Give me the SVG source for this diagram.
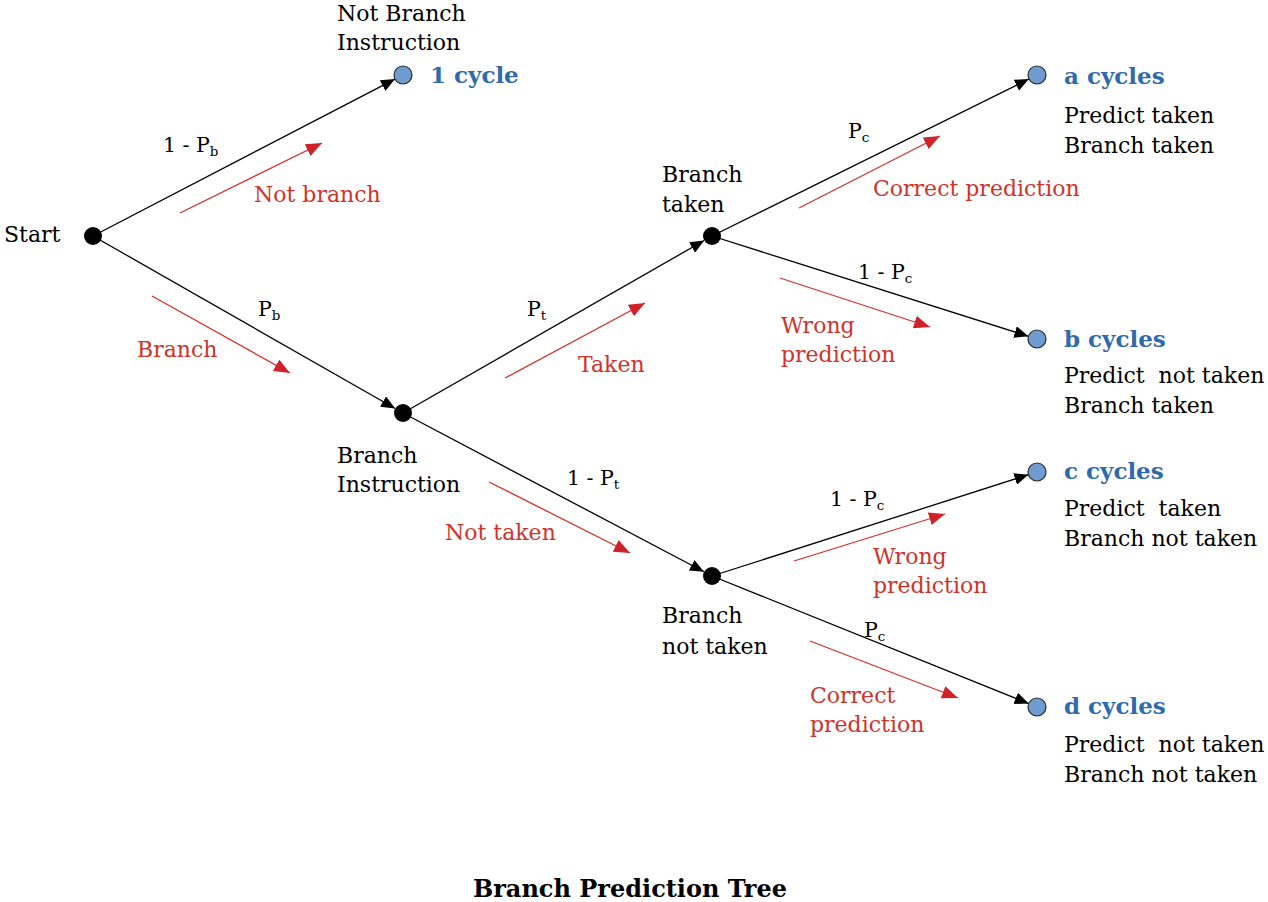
<svg xmlns="http://www.w3.org/2000/svg" width="1268" height="902" viewBox="0 0 1268 902">
<style>
text{font-family:"DejaVu Serif","Liberation Serif",serif;font-size:22px;fill:#000}
.red{fill:#D0322C}
.blue{fill:#2E6BAE;font-weight:bold;font-size:23px}
.lbl{font-size:20.5px}
.sub{font-size:13.5px}
.title{font-weight:bold;font-size:24px}
.edge{stroke:#000;stroke-width:1.3;fill:none;marker-end:url(#ah)}
.ann{stroke:#D8302A;stroke-width:1.3;fill:none;marker-end:url(#rh)}
.dot{fill:#000}
.leaf{fill:#6F9BD1;stroke:#2a2a2a;stroke-width:1.2}
</style>
<defs>
<marker id="ah" markerUnits="userSpaceOnUse" markerWidth="14" markerHeight="12" refX="14" refY="6" orient="auto"><path d="M0,0 L14,6 L0,12 z" fill="#000"/></marker>
<marker id="rh" markerUnits="userSpaceOnUse" markerWidth="16" markerHeight="13" refX="16" refY="6.5" orient="auto"><path d="M0,0 L16,6.5 L0,13 z" fill="#D0222A"/></marker>
</defs>
<rect width="1268" height="902" fill="#fff"/>
<g id="connectors">
<line class="edge" x1="93" y1="236" x2="395" y2="79.1"/>
<line class="edge" x1="93" y1="236" x2="395.2" y2="408.5"/>
<line class="edge" x1="403" y1="413" x2="704.2" y2="240.5"/>
<line class="edge" x1="403" y1="413" x2="704" y2="571.8"/>
<line class="edge" x1="712" y1="236" x2="1028.9" y2="79"/>
<line class="edge" x1="712" y1="236" x2="1028.4" y2="336.3"/>
<line class="edge" x1="712" y1="576" x2="1028.4" y2="474.7"/>
<line class="edge" x1="712" y1="576" x2="1028.7" y2="703.6"/>
<text x="163" y="152" class="lbl">1 - P<tspan class="sub" dy="4">b</tspan></text>
<text x="258" y="316" class="lbl">P<tspan class="sub" dy="4">b</tspan></text>
<text x="527" y="316" class="lbl">P<tspan class="sub" dy="4">t</tspan></text>
<text x="567" y="485" class="lbl">1 - P<tspan class="sub" dy="4">t</tspan></text>
<text x="848" y="138" class="lbl">P<tspan class="sub" dy="4">c</tspan></text>
<text x="858" y="279" class="lbl">1 - P<tspan class="sub" dy="4">c</tspan></text>
<text x="830" y="506" class="lbl">1 - P<tspan class="sub" dy="4">c</tspan></text>
<text x="864" y="637" class="lbl">P<tspan class="sub" dy="4">c</tspan></text>
</g>
<g id="annotations">
<line class="ann" x1="180" y1="213" x2="322" y2="143"/>
<text x="254" y="202" class="red">Not branch</text>
<line class="ann" x1="152" y1="296" x2="290" y2="373"/>
<text x="137" y="357" class="red">Branch</text>
<line class="ann" x1="505" y1="378" x2="645" y2="303"/>
<text x="578" y="372" class="red">Taken</text>
<line class="ann" x1="489" y1="482" x2="630" y2="553"/>
<text x="445" y="540" class="red">Not taken</text>
<line class="ann" x1="799" y1="208" x2="940" y2="136"/>
<text x="873" y="196" class="red">Correct prediction</text>
<line class="ann" x1="780" y1="278" x2="930" y2="327"/>
<text x="781" y="333" class="red">Wrong</text>
<text x="781" y="362" class="red">prediction</text>
<line class="ann" x1="794" y1="561" x2="945" y2="514"/>
<text x="873" y="564" class="red">Wrong</text>
<text x="873" y="593" class="red">prediction</text>
<line class="ann" x1="810" y1="641" x2="958" y2="698"/>
<text x="810" y="703" class="red">Correct</text>
<text x="810" y="732" class="red">prediction</text>
</g>
<g id="start">
<circle class="dot" cx="93" cy="236" r="9"/>
<text x="4" y="242">Start</text>
</g>
<g id="not-branch">
<circle class="leaf" cx="403" cy="75" r="9"/>
<text x="337" y="21">Not Branch</text>
<text x="337" y="50">Instruction</text>
<text x="430" y="83" class="blue">1 cycle</text>
</g>
<g id="branch-instruction">
<circle class="dot" cx="403" cy="413" r="9"/>
<text x="337" y="463">Branch</text>
<text x="337" y="492">Instruction</text>
</g>
<g id="branch-taken">
<circle class="dot" cx="712" cy="236" r="9"/>
<text x="662" y="182">Branch</text>
<text x="662" y="212">taken</text>
</g>
<g id="branch-not-taken">
<circle class="dot" cx="712" cy="576" r="9"/>
<text x="662" y="623">Branch</text>
<text x="662" y="654">not taken</text>
</g>
<g id="leaf-a">
<circle class="leaf" cx="1037" cy="75" r="9"/>
<text x="1064" y="84" class="blue">a cycles</text>
<text x="1064" y="123">Predict taken</text>
<text x="1064" y="153">Branch taken</text>
</g>
<g id="leaf-b">
<circle class="leaf" cx="1037" cy="339" r="9"/>
<text x="1064" y="347" class="blue">b cycles</text>
<text x="1064" y="383" xml:space="preserve">Predict  not taken</text>
<text x="1064" y="413">Branch taken</text>
</g>
<g id="leaf-c">
<circle class="leaf" cx="1037" cy="472" r="9"/>
<text x="1064" y="479" class="blue">c cycles</text>
<text x="1064" y="516" xml:space="preserve">Predict  taken</text>
<text x="1064" y="546">Branch not taken</text>
</g>
<g id="leaf-d">
<circle class="leaf" cx="1037" cy="707" r="9"/>
<text x="1064" y="714" class="blue">d cycles</text>
<text x="1064" y="752" xml:space="preserve">Predict  not taken</text>
<text x="1064" y="782">Branch not taken</text>
</g>
<g id="title">
<text x="630" y="897" text-anchor="middle" class="title">Branch Prediction Tree</text>
</g>
</svg>
